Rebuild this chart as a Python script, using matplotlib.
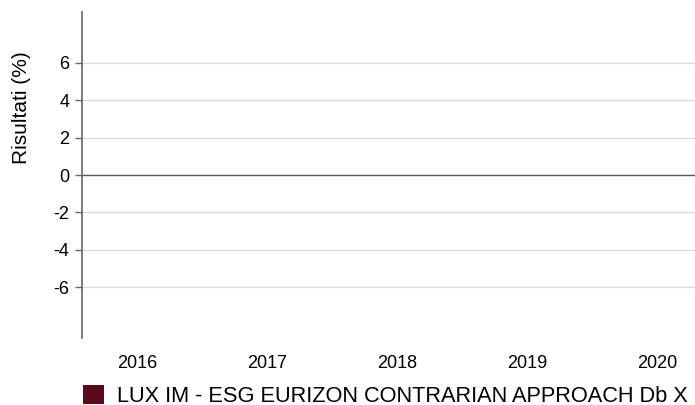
import numpy as np
import matplotlib
matplotlib.use("Agg")
import matplotlib.pyplot as plt

# data (chart shows no bars: values not available)
years = ["2016", "2017", "2018", "2019", "2020"]
fund_returns = [np.nan, np.nan, np.nan, np.nan, np.nan]
fund_name = "LUX IM - ESG EURIZON CONTRARIAN APPROACH Db X"
y_ticks = [-6, -4, -2, 0, 2, 4, 6]

plt.rcParams["font.family"] = ["Liberation Sans", "DejaVu Sans"]

fig = plt.figure(figsize=(6.95, 4.05), dpi=100)
ax = fig.add_axes([82 / 695, 1 - 338 / 405, 1 - 82 / 695, (338 - 12) / 405])

x = np.arange(len(years))
ax.bar(x, fund_returns, width=0.6, color="#5a0a1e", label=fund_name, zorder=3)

ax.set_xlim(-0.423, 4.29)
ax.set_ylim(-8.73, 8.73)

ax.set_yticks(y_ticks)
ax.set_yticklabels([str(v) for v in y_ticks], fontsize=13)
ax.set_xticks(x)
ax.set_xticklabels(years, fontsize=13)
ax.tick_params(axis="x", length=0, pad=12)
ax.tick_params(axis="y", length=5, width=1, color="#666666", pad=4)

# grid and zero line
for v in y_ticks:
    if v == 0:
        ax.axhline(0, color="#555555", linewidth=1, zorder=2)
    else:
        ax.axhline(v, color="#dcdcdc", linewidth=1, zorder=1)

for s in ["top", "right", "bottom"]:
    ax.spines[s].set_visible(False)
ax.spines["left"].set_color("#666666")
ax.spines["left"].set_linewidth(1.2)

fig.text(22 / 695, 1 - 108 / 405, "Risultati (%)", rotation=90,
         ha="center", va="center", fontsize=15)

ax.legend(loc="center left", bbox_to_anchor=(74 / 695, 1 - 396 / 405), bbox_transform=fig.transFigure,
          frameon=False, fontsize=15.7, handlelength=0.96, handleheight=0.96,
          handletextpad=0.6, borderaxespad=0)

fig.savefig("out.png", dpi=100)
